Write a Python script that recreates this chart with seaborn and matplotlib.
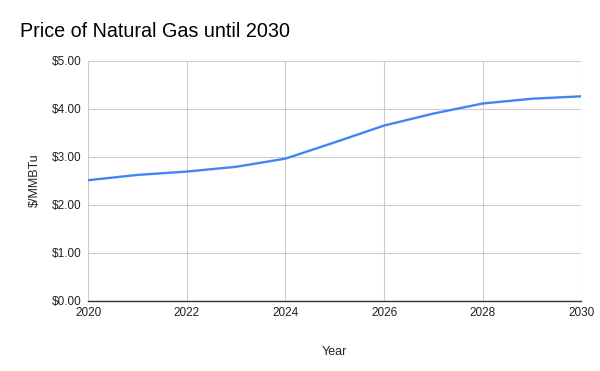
import pandas as pd
import matplotlib.pyplot as plt
import seaborn as sns

# Natural gas price projection
years = [2020, 2021, 2022, 2023, 2024, 2025, 2026, 2027, 2028, 2029, 2030]
prices = [2.51, 2.62, 2.69, 2.79, 2.96, 3.30, 3.65, 3.90, 4.11, 4.21, 4.26]
x_ticks = [2020, 2022, 2024, 2026, 2028, 2030]
y_ticks = [0, 1, 2, 3, 4, 5]

gas_df = pd.DataFrame({'Year': years, 'Price': prices})

sns.set_style('white')
plt.rcParams['font.family'] = ['Liberation Sans', 'DejaVu Sans']

fig = plt.figure(figsize=(6, 3.71), dpi=100)
ax = fig.add_axes([0.147, 0.19, 0.822, 0.646])

sns.lineplot(data=gas_df, x='Year', y='Price', color='#4285F4', linewidth=1.7, ax=ax)

ax.set_xlim(2020, 2030)
ax.set_ylim(0, 5)
ax.set_xticks(x_ticks)
ax.set_yticks(y_ticks)
ax.set_xticklabels([str(t) for t in x_ticks])
ax.set_yticklabels([f'\\${t:.2f}' for t in y_ticks])
ax.tick_params(axis='y', length=0, labelsize=8.5, labelcolor='#222222', pad=5)
ax.tick_params(axis='x', length=0, labelsize=8.5, labelcolor='#222222', pad=5)

ax.grid(True, color='#cccccc', linewidth=0.8)
for side in ['top', 'right', 'left']:
    ax.spines[side].set_visible(False)
ax.spines['bottom'].set_color('#333333')
ax.spines['bottom'].set_linewidth(1)

ax.set_xlabel('Year', fontsize=9, color='#222222', labelpad=19)
ax.set_ylabel('\\$/MMBTu', fontsize=9, color='#222222', labelpad=8)

fig.text(0.033, 0.915, 'Price of Natural Gas until 2030', fontsize=14.2, color='black', ha='left', va='center')

fig.savefig('out.png', dpi=100)
